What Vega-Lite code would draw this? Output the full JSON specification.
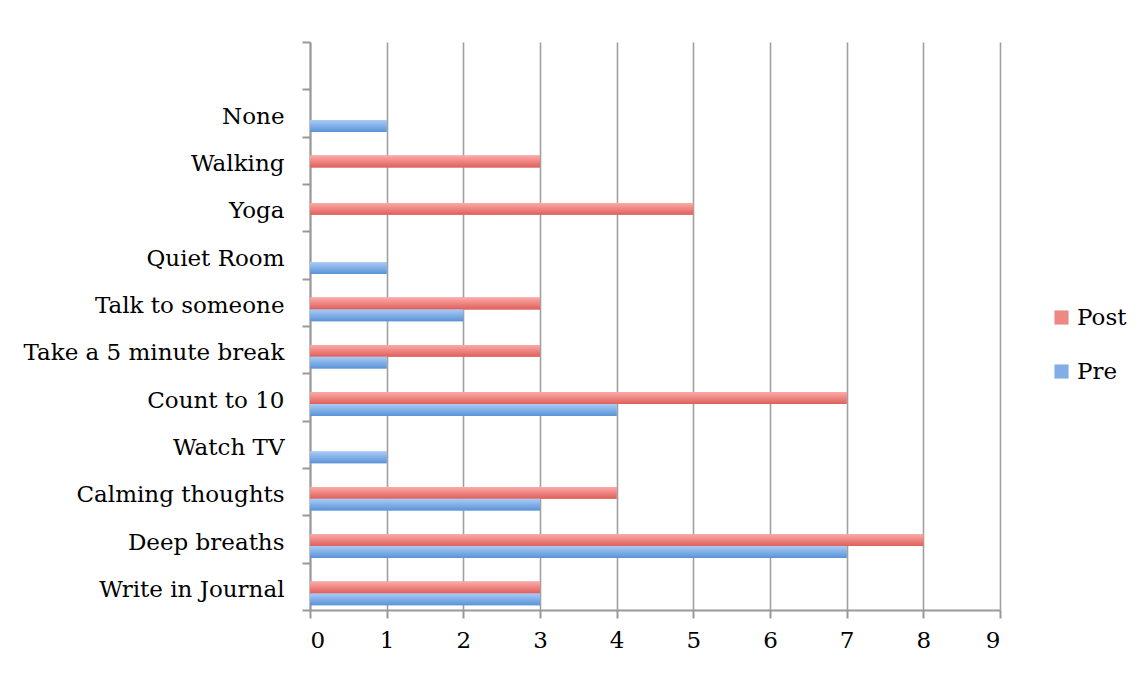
{
  "$schema": "https://vega.github.io/schema/vega-lite/v6.json",
  "width": 690,
  "height": 568,
  "padding": {"left": 22, "top": 31, "right": 0, "bottom": 0},
  "autosize": {"type": "pad"},
  "background": "white",
  "config": {
    "view": {"stroke": null},
    "font": "DejaVu Serif"
  },
  "data": {
    "values": [
      {"activity": "Write in Journal", "series": "Post", "count": 3},
      {"activity": "Write in Journal", "series": "Pre", "count": 3},
      {"activity": "Deep breaths", "series": "Post", "count": 8},
      {"activity": "Deep breaths", "series": "Pre", "count": 7},
      {"activity": "Calming thoughts", "series": "Post", "count": 4},
      {"activity": "Calming thoughts", "series": "Pre", "count": 3},
      {"activity": "Watch TV", "series": "Pre", "count": 1},
      {"activity": "Count to 10", "series": "Post", "count": 7},
      {"activity": "Count to 10", "series": "Pre", "count": 4},
      {"activity": "Take a 5 minute break", "series": "Post", "count": 3},
      {"activity": "Take a 5 minute break", "series": "Pre", "count": 1},
      {"activity": "Talk to someone", "series": "Post", "count": 3},
      {"activity": "Talk to someone", "series": "Pre", "count": 2},
      {"activity": "Quiet Room", "series": "Pre", "count": 1},
      {"activity": "Yoga", "series": "Post", "count": 5},
      {"activity": "Walking", "series": "Post", "count": 3},
      {"activity": "None", "series": "Pre", "count": 1}
    ]
  },
  "encoding": {
    "y": {
      "field": "activity",
      "type": "nominal",
      "scale": {
        "domain": [" ", "None", "Walking", "Yoga", "Quiet Room", "Talk to someone", "Take a 5 minute break", "Count to 10", "Watch TV", "Calming thoughts", "Deep breaths", "Write in Journal"],
        "paddingInner": 0,
        "paddingOuter": 0
      },
      "axis": {
        "title": null,
        "tickBand": "extent",
        "domainColor": "#999999",
        "domainWidth": 2,
        "tickColor": "#999999",
        "tickWidth": 2,
        "tickSize": 8,
        "labelFontSize": 23,
        "labelFont": "DejaVu Serif",
        "labelColor": "#000000",
        "labelPadding": 18,
        "labelOffset": 3,
        "labelLimit": 0,
        "grid": false
      }
    },
    "yOffset": {
      "field": "series",
      "type": "nominal",
      "scale": {"domain": ["Post", "Pre"], "paddingInner": 0, "paddingOuter": 1.1, "align": 0.8}
    },
    "x": {
      "field": "count",
      "type": "quantitative",
      "scale": {"domain": [0, 9], "nice": false},
      "axis": {
        "title": null,
        "values": [0, 1, 2, 3, 4, 5, 6, 7, 8, 9],
        "format": "d",
        "domainColor": "#999999",
        "domainWidth": 2,
        "tickColor": "#999999",
        "tickWidth": 2,
        "tickSize": 8,
        "gridColor": "#a0a0a0",
        "gridWidth": 1.6,
        "gridOpacity": 1,
        "labelFontSize": 23,
        "labelFont": "DejaVu Serif",
        "labelColor": "#000000",
        "labelPadding": 11
      }
    }
  },
  "layer": [
    {
      "mark": {"type": "bar"},
      "encoding": {
        "color": {
          "field": "series",
          "type": "nominal",
          "scale": {"domain": ["Post", "Pre"], "range": ["#ee8884", "#82aee8"]},
          "legend": {
            "title": null,
            "orient": "none",
            "legendX": 740,
            "legendY": 264,
            "symbolType": "square",
            "symbolSize": 200,
            "symbolStrokeWidth": 0,
            "symbolOpacity": 1,
            "labelFontSize": 23,
            "labelFont": "DejaVu Serif",
            "labelColor": "#000000",
            "rowPadding": 30,
            "labelOffset": 4
          }
        }
      }
    },
    {
      "transform": [{"filter": "datum.series === 'Post'"}],
      "mark": {
        "type": "bar",
        "color": {"gradient": "linear", "x1": 0, "y1": 0, "x2": 0, "y2": 1, "stops": [{"offset": 0, "color": "#fbaaa8"}, {"offset": 1, "color": "#df5f5a"}]}
      }
    },
    {
      "transform": [{"filter": "datum.series === 'Pre'"}],
      "mark": {
        "type": "bar",
        "color": {"gradient": "linear", "x1": 0, "y1": 0, "x2": 0, "y2": 1, "stops": [{"offset": 0, "color": "#aacbf6"}, {"offset": 1, "color": "#5a93d8"}]}
      }
    }
  ]
}
